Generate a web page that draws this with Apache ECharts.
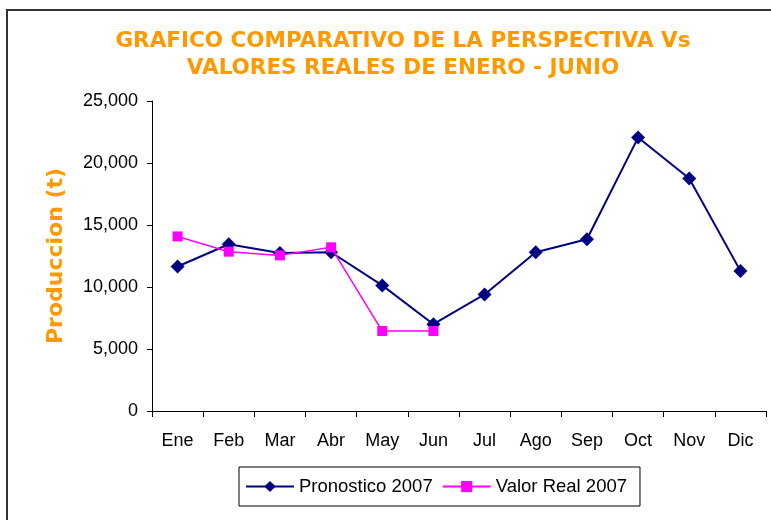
<!DOCTYPE html>
<html>
<head>
<meta charset="utf-8">
<script src="https://cdn.jsdelivr.net/npm/echarts@6/dist/echarts.min.js"></script>
<style>
  html, body { margin: 0; padding: 0; background: #fff; overflow: hidden; }
  #frame { position: absolute; left: 6px; top: 9px; width: 800px; height: 560px; border: 2px solid #333; box-sizing: border-box; }
  #chart { position: absolute; left: 0; top: 0; width: 771px; height: 520px; }
</style>
</head>
<body>
<div id="frame"></div>
<div id="chart"></div>
<script>
var meses = ['Ene', 'Feb', 'Mar', 'Abr', 'May', 'Jun', 'Jul', 'Ago', 'Sep', 'Oct', 'Nov', 'Dic'];
var pronostico = [11650, 13450, 12750, 12800, 10130, 7000, 9400, 12800, 13850, 22050, 18750, 11300];
var valorReal = [14080, 12850, 12550, 13200, 6450, 6450];
var yTicks = [0, 5000, 10000, 15000, 20000, 25000];

var chart = echarts.init(document.getElementById('chart'));

var option = {
    animation: false,
    title: {
        text: 'GRAFICO COMPARATIVO DE LA PERSPECTIVA Vs\nVALORES REALES DE ENERO - JUNIO',
        left: 398,
        top: 23,
        textAlign: 'center',
        textStyle: {
            color: '#FF9900',
            fontFamily: 'DejaVu Sans',
            fontWeight: 'bold',
            fontSize: 21.5,
            lineHeight: 27
        }
    },
    legend: {
        left: 239,
        top: 467,
        padding: [10, 13, 10, 6],
        borderColor: '#000',
        borderWidth: 1,
        itemWidth: 48,
        itemHeight: 14,
        itemGap: 9,
        textStyle: { fontFamily: 'Liberation Sans', fontSize: 18.5, color: '#000' },
        data: ['Pronostico 2007', 'Valor Real 2007']
    },
    grid: { left: 152, right: 5, top: 101, bottom: 109 },
    xAxis: {
        type: 'category',
        data: meses,
        boundaryGap: true,
        axisLine: { lineStyle: { color: '#000', width: 1 } },
        axisTick: { show: true, length: 6, lineStyle: { color: '#000' } },
        axisLabel: { color: '#000', fontFamily: 'Liberation Sans', fontSize: 18, margin: 21 }
    },
    yAxis: {
        type: 'value',
        min: yTicks[0],
        max: yTicks[yTicks.length - 1],
        interval: 5000,
        name: 'Produccion (t)',
        nameLocation: 'middle',
        nameGap: 85,
        nameRotate: 90,
        nameTextStyle: { color: '#FF9900', fontFamily: 'DejaVu Sans', fontWeight: 'bold', fontSize: 22 },
        splitLine: { show: false },
        axisLine: { show: true, lineStyle: { color: '#000', width: 1 } },
        axisTick: { show: true, length: 5, lineStyle: { color: '#000' } },
        axisLabel: {
            color: '#000',
            fontFamily: 'Liberation Sans',
            fontSize: 18,
            margin: 14,
            formatter: function (v) { return v.toLocaleString('en-US'); }
        }
    },
    series: [
        {
            name: 'Pronostico 2007',
            type: 'line',
            data: pronostico,
            symbol: 'diamond',
            symbolSize: 14,
            lineStyle: { color: '#000080', width: 2 },
            itemStyle: { color: '#000080' },
            z: 2
        },
        {
            name: 'Valor Real 2007',
            type: 'line',
            data: valorReal,
            symbol: 'rect',
            symbolSize: 10,
            lineStyle: { color: '#FF00FF', width: 1.5 },
            itemStyle: { color: '#FF00FF' },
            z: 3
        }
    ]
};

chart.setOption(option);
</script>
</body>
</html>
